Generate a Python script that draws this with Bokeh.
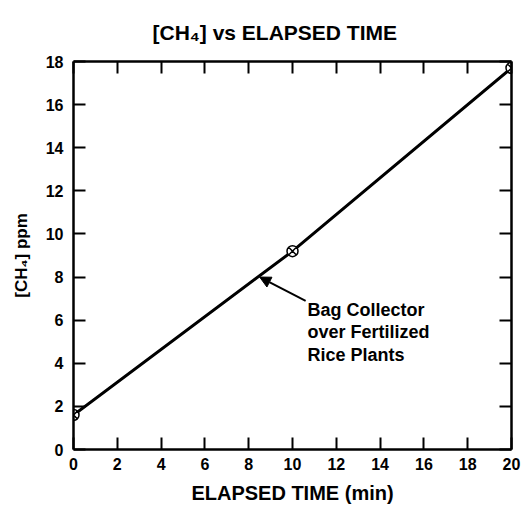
from bokeh.plotting import figure
from bokeh.models import (Range1d, LinearAxis, FixedTicker, Label, Arrow, NormalHead,
                          ColumnDataSource, CustomLabelingPolicy)
from bokeh.embed import file_html
from bokeh.resources import INLINE

# ---- data ----
elapsed_min = [0, 10, 20]
ch4_ppm = [1.6, 9.2, 17.7]
x_ticks = [0, 2, 4, 6, 8, 10, 12, 14, 16, 18, 20]
y_ticks = [0, 2, 4, 6, 8, 10, 12, 14, 16, 18]
title_text = "[CH\u2084] vs ELAPSED TIME"
x_title = "ELAPSED TIME (min)"
y_title = "[CH\u2084] ppm"
note_lines = ["Bag Collector", "over Fertilized", "Rice Plants"]
arrow_tip = (8.5, 8.0)
arrow_tail = (10.6, 6.9)

FONT = "Liberation Sans"

p = figure(width=521, height=506, output_backend="svg", toolbar_location=None,
           x_range=Range1d(0, 20), y_range=Range1d(0, 18),
           min_border_left=73, min_border_right=10, min_border_top=61,
           min_border_bottom=56)
p.xgrid.visible = False
p.ygrid.visible = False
p.outline_line_color = None
p.background_fill_color = "white"
p.border_fill_color = "white"

bottom_ax = p.below[0]
left_ax = p.left[0]
top_ax = LinearAxis()
right_ax = LinearAxis()
p.add_layout(top_ax, "above")
p.add_layout(right_ax, "right")

hide_all = CustomLabelingPolicy(code="""
for (const i of Array.from(indices)) { indices.unset(i) }
return indices
""")


def style_axis(ax, ticks, show_labels, standoff):
    ax.ticker = FixedTicker(ticks=ticks)
    ax.axis_line_width = 2.5
    ax.axis_line_color = "black"
    ax.major_tick_in = 12
    ax.major_tick_out = 0
    ax.major_tick_line_width = 2
    ax.major_tick_line_color = "black"
    ax.minor_tick_line_color = None
    ax.major_label_standoff = standoff
    ax.major_label_text_font = FONT
    ax.major_label_text_font_style = "bold"
    ax.major_label_text_color = "black"
    ax.major_label_text_font_size = "16px" if show_labels else "1px"
    if not show_labels:
        ax.major_label_policy = hide_all


style_axis(bottom_ax, x_ticks, True, 8)
style_axis(left_ax, y_ticks, True, 10)
style_axis(top_ax, x_ticks, False, 0)
style_axis(right_ax, y_ticks, False, 0)

bottom_ax.axis_label = x_title
bottom_ax.axis_label_text_font = FONT
bottom_ax.axis_label_text_font_style = "bold"
bottom_ax.axis_label_text_font_size = "20px"
bottom_ax.axis_label_text_color = "black"
bottom_ax.axis_label_standoff = 9

left_ax.axis_label = y_title
left_ax.axis_label_text_font = FONT
left_ax.axis_label_text_font_style = "bold"
left_ax.axis_label_text_font_size = "17px"
left_ax.axis_label_text_color = "black"
left_ax.axis_label_standoff = 12

p.title.text = title_text
p.title.align = "left"
p.title.offset = 79
p.title.text_font = FONT
p.title.text_font_style = "bold"
p.title.text_font_size = "21px"
p.title.text_color = "black"
p.title.standoff = 27

src = ColumnDataSource(dict(x=elapsed_min, y=ch4_ppm))
p.line("x", "y", source=src, line_width=3, line_color="black")
p.scatter("x", "y", source=src, marker="circle_x", size=11, line_width=1.5,
          line_color="black", fill_color="white")

p.add_layout(Arrow(end=NormalHead(size=11, fill_color="black", line_color="black"),
                   x_start=arrow_tail[0], y_start=arrow_tail[1],
                   x_end=arrow_tip[0], y_end=arrow_tip[1],
                   line_width=2, line_color="black"))

for i, line in enumerate(note_lines):
    p.add_layout(Label(x=234, y=140 - i * 22.5, x_units="screen", y_units="screen",
                       text=line, text_font=FONT, text_font_size="18px",
                       text_font_style="bold", text_color="black",
                       text_baseline="alphabetic"))

open("out.html", "w").write(file_html(p, INLINE))
